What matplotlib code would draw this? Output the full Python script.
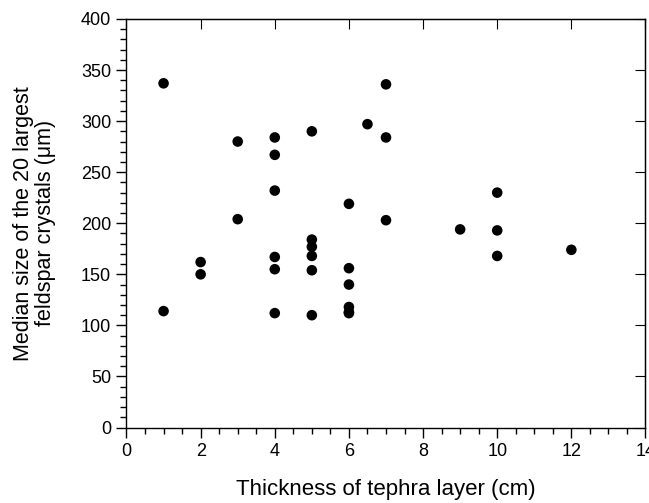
import numpy as np
import matplotlib
matplotlib.use('Agg')
import matplotlib.pyplot as plt
from matplotlib.ticker import MultipleLocator

plt.rcParams['font.family'] = ['Liberation Sans', 'DejaVu Sans']

# tephra layer thickness (cm) and median crystal size (um)
thickness = [1, 1,
             2, 2,
             3, 3,
             4, 4, 4, 4, 4, 4,
             5, 5, 5, 5, 5, 5,
             6, 6, 6, 6, 6, 6,
             6.5,
             7, 7, 7,
             9,
             10, 10, 10,
             12]
median_size = [337, 114,
               162, 150,
               280, 204,
               284, 267, 232, 167, 155, 112,
               290, 184, 177, 168, 154, 110,
               219, 156, 140, 118, 112, 113,
               297,
               336, 284, 203,
               194,
               230, 193, 168,
               174]

fig = plt.figure(figsize=(6.49, 5.03), dpi=100)
ax = fig.add_axes([0.1949, 0.150, 0.7997, 0.8123])

ax.scatter(thickness, median_size, s=58, c='black', edgecolors='none', zorder=3)

ax.set_xlim(0, 14)
ax.set_ylim(0, 400)
ax.xaxis.set_major_locator(MultipleLocator(2))
ax.xaxis.set_minor_locator(MultipleLocator(0.5))
ax.yaxis.set_major_locator(MultipleLocator(50))
ax.yaxis.set_minor_locator(MultipleLocator(10))

ax.tick_params(which='both', direction='out', top=False, right=False,
               labelsize=13, width=1, color='black')
ax.tick_params(which='major', length=7, pad=4)
ax.tick_params(which='minor', length=4)

# inward major ticks on top and right spines
sec_x = ax.secondary_xaxis('top')
sec_x.xaxis.set_major_locator(MultipleLocator(2))
sec_x.tick_params(direction='in', length=7, labeltop=False)
sec_y = ax.secondary_yaxis('right')
sec_y.yaxis.set_major_locator(MultipleLocator(50))
sec_y.tick_params(direction='in', length=7, labelright=False)

for s in ax.spines.values():
    s.set_linewidth(1)

ax.set_xlabel('Thickness of tephra layer (cm)', fontsize=16, labelpad=14)
ax.set_ylabel('Median size of the 20 largest\nfeldspar crystals (\u03bcm)',
              fontsize=15.5, labelpad=18, linespacing=1.05)

fig.savefig('out.png', dpi=100)
